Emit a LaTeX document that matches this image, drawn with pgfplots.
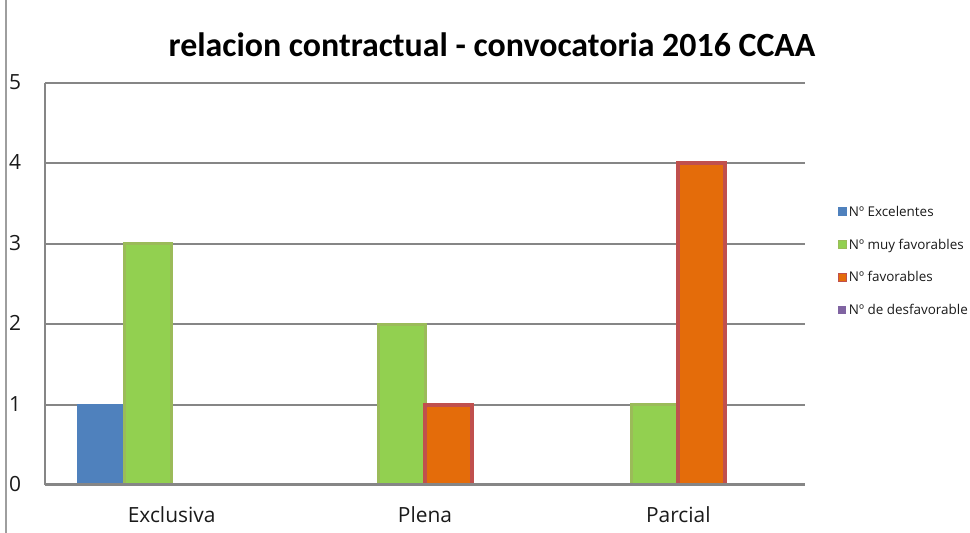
\documentclass[border=0pt]{standalone}
\usepackage{pgfplots}
\pgfplotsset{compat=1.18}
\usepackage{fontspec}
\setmainfont{Open Sans}
\newfontfamily\titlefont{Carlito}
\definecolor{cblue}{HTML}{4F81BD}
\definecolor{cgreen}{HTML}{92D050}
\definecolor{cgreenb}{HTML}{9BBB59}
\definecolor{corange}{HTML}{E46C0A}
\definecolor{cred}{HTML}{C0504D}
\definecolor{cpurple}{HTML}{8064A2}
\definecolor{cgrid}{HTML}{868686}
\definecolor{ctext}{HTML}{1A1A1A}
\begin{document}
\begin{tikzpicture}
\useasboundingbox (0bp,0bp) rectangle (970bp,533bp);
\draw[cgrid!80, line width=1.5bp] (6bp,0bp) -- (6bp,533bp);
\node[font=\titlefont\bfseries\fontsize{34}{38}\selectfont, text=black] at (492bp,488bp) {relacion contractual - convocatoria 2016 CCAA};
\begin{axis}[
  at={(45bp,48bp)}, anchor=south west,
  scale only axis, width=760bp, height=402bp,
  ybar=0pt, bar width=0.1855,
  xmin=-0.5, xmax=2.5, ymin=0, ymax=5,
  xtick={0,1,2}, xticklabels={Exclusiva,Plena,Parcial},
  ytick={0,1,2,3,4,5},
  major tick length=0pt,
  ymajorgrids, grid style={cgrid, line width=2bp},
  axis x line*=bottom, axis y line*=left,
  axis line style={cgrid, line width=2bp, -},
  /pgf/number format/assume math mode=true,
  ticklabel style={font=\fontsize{21}{24}\selectfont, text=ctext},
  yticklabel style={anchor=west, inner sep=0pt, xshift=-36bp, yshift=1bp},
  xticklabel style={anchor=north, inner sep=0pt, yshift=-21bp},
  legend style={at={(1.043,0.557)}, anchor=west, draw=none, fill=none,
    inner sep=0pt, row sep=17bp,
    font=\fontsize{13.5}{15}\selectfont, text=ctext},
  legend cell align=left,
  legend image code/.code={\path[#1, line width=1bp] (0bp,-4bp) rectangle (8bp,4bp);},
]
\addplot[fill=cblue, draw=cblue, line width=1bp] coordinates {(0,1) (1,0) (2,0)};
\addplot[fill=cgreen, draw=cgreenb, line width=3bp] coordinates {(0,3) (1,2) (2,1)};
\addplot[fill=corange, draw=cred, line width=4bp] coordinates {(0,0) (1,1) (2,4)};
\addplot[fill=cpurple, draw=none] coordinates {(0,0) (1,0) (2,0)};
\legend{Nº Excelentes, Nº muy favorables, Nº favorables, Nº de desfavorable}
\draw[cgrid, line width=4.5bp] (axis cs:-0.5,0) -- (axis cs:2.5,0);
\end{axis}
\end{tikzpicture}
\end{document}
